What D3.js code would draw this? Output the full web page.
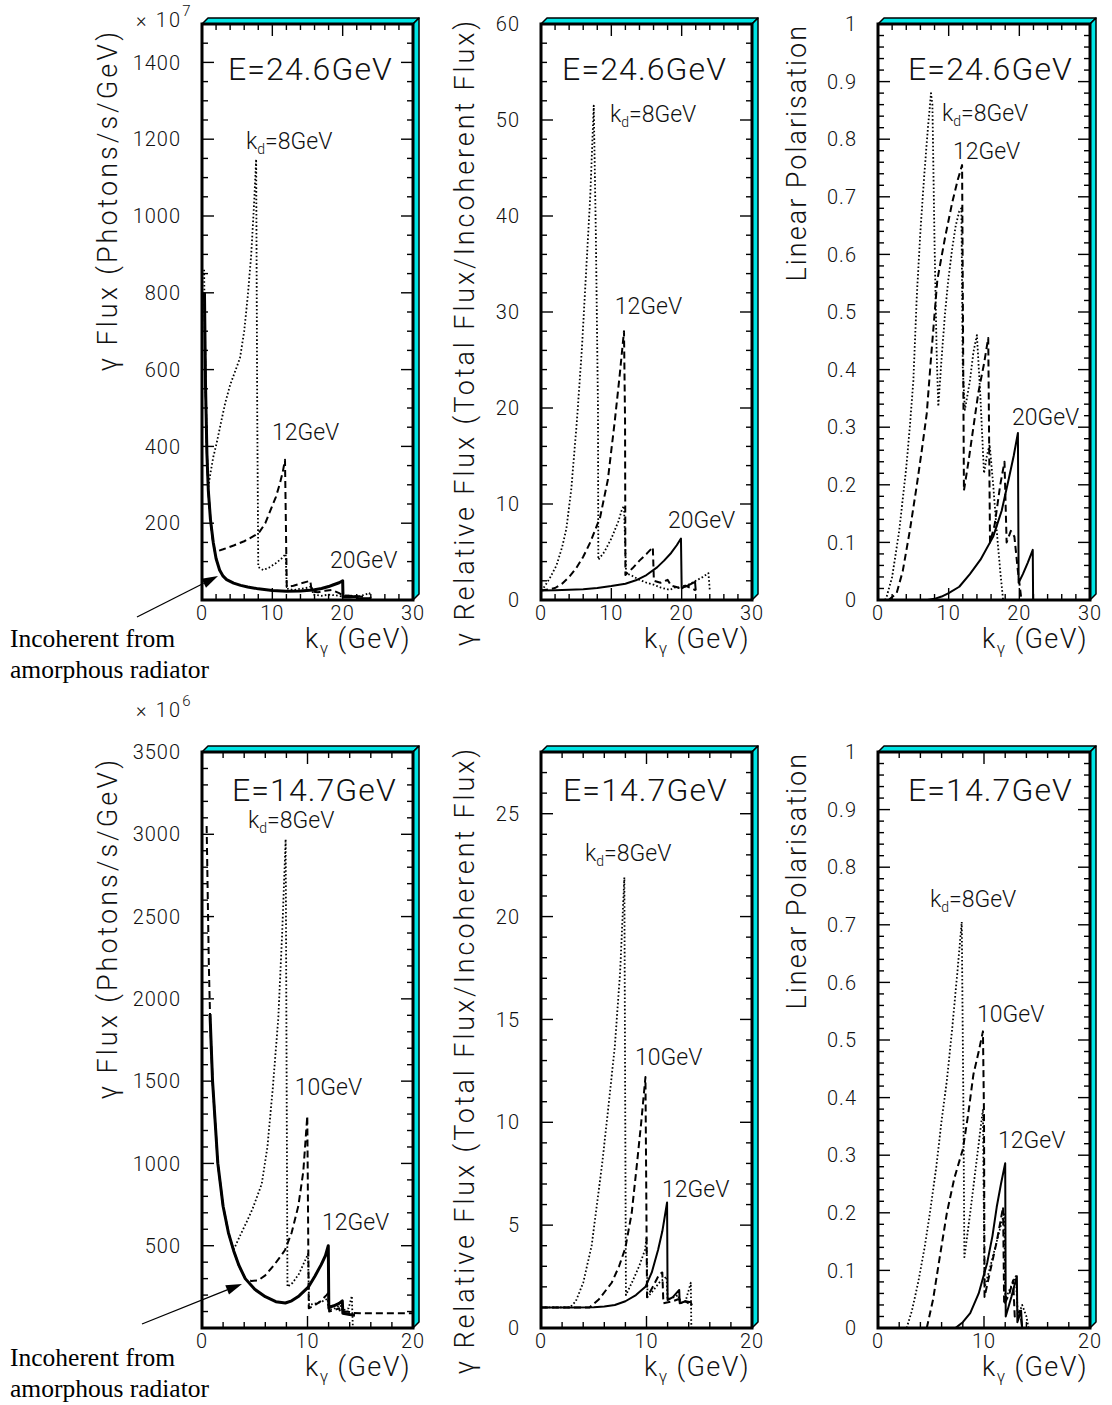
<!DOCTYPE html>
<html>
<head>
<meta charset="utf-8">
<script src="https://cdn.jsdelivr.net/npm/d3@7"></script>
<style>
  body { margin: 0; background: #fff; }
  svg text { font-family: Roboto, "Liberation Sans", Arial, sans-serif; font-weight: 300; fill: #111; }
  svg text.serif { font-family: "Liberation Serif", "Times New Roman", serif; font-weight: 400; fill: #000; }
</style>
</head>
<body>
<svg id="chart" width="1112" height="1405"></svg>
<script>
// ---- tick labels ----
const topXLabels = [0, 10, 20, 30];
const botXLabels = [0, 10, 20];
const fluxTopYLabels = [200, 400, 600, 800, 1000, 1200, 1400];
const relTopYLabels = [0, 10, 20, 30, 40, 50, 60];
const polYLabels = [0, 0.1, 0.2, 0.3, 0.4, 0.5, 0.6, 0.7, 0.8, 0.9, 1];
const fluxBotYLabels = [500, 1000, 1500, 2000, 2500, 3000, 3500];
const relBotYLabels = [0, 5, 10, 15, 20, 25];

// ---- E = 24.6 GeV : flux (x 10^7 photons/s/GeV) ----
const p1Solid = [[0.35,800],[0.5,560],[0.7,380],[0.9,285],[1.2,210],[1.6,150],[2.0,108],[2.5,78],[3.0,62],[3.5,53],[4.5,44],[5.5,38],[6.5,34],[8,29],[10,25],[12,23],[14,23.5],[15.8,26],[17,30],[18,35],[18.6,39],[19.5,45],[20,50],[20.05,8],[21,8],[22,9],[22.1,4],[23,3],[24,3]];
const p1Dashed = [[0.35,800],[0.5,560],[0.7,380],[0.9,285],[1.2,210],[1.5,160],[1.85,125],[3,132],[4.5,142],[6,153],[7.5,168],[8.2,178],[9,200],[9.7,232],[10.5,268],[11.1,305],[11.5,335],[11.8,365],[12.05,34],[13,37],[14,43],[15.4,50],[15.6,22],[16.5,20],[17.5,24],[18.5,26],[19.5,18],[20,12],[21,11],[22,10],[23,8]];
const p1Dotted = [[0.3,860],[0.5,560],[0.7,390],[0.9,295],[1.2,330],[1.6,372],[2.1,410],[2.7,462],[3.3,513],[4.0,560],[4.7,595],[5.4,630],[6.0,700],[6.5,790],[7.0,900],[7.4,1030],[7.7,1148],[7.85,500],[8.0,86],[8.7,78],[9.5,84],[10.5,96],[11.3,108],[11.9,120],[12.05,30],[13,26],[14,29],[15,32],[15.6,36],[15.8,14],[17,11],[18,14],[19,12],[20,9],[21,12],[22,8],[23,13],[23.8,18],[24,4]];

// ---- E = 24.6 GeV : relative flux ----
const p2Solid = [[0,1],[2,1.02],[4,1.06],[6,1.13],[8,1.25],[10,1.45],[12,1.7],[13.5,2.05],[15,2.6],[16.5,3.4],[17.5,4.1],[18.5,4.9],[19.3,5.7],[19.9,6.4],[20.0,1.25],[21,1.55],[21.9,1.9],[22,1.0]];
const p2Dashed = [[0,1],[1,1.1],[2,1.25],[3,1.7],[4,2.4],[5,3.3],[6,4.5],[7,6.0],[8.4,8.6],[9.5,12.5],[10.5,18.7],[11.2,23.5],[11.8,28],[11.95,18.7],[12.0,2.6],[13,3.3],[14,4.1],[15,4.8],[15.9,5.5],[16.05,2.0],[17,1.8],[18,2.1],[18.5,1.5],[19.5,1.3],[20.5,1.5],[21.5,1.2],[22,1.0]];
const p2Dotted = [[0,1],[0.5,1.4],[1.2,2.2],[2.2,3.6],[3,5.5],[3.6,7.4],[4.3,11.5],[5.1,18.6],[5.8,26],[6.4,34],[7.0,42],[7.5,51.5],[7.8,38],[8.1,20],[8.15,4.2],[9,5],[10,6.4],[11,8.2],[11.5,9.4],[11.8,9.8],[12.1,2.8],[13,2.5],[14,2.1],[15,1.8],[16,1.6],[17,1.3],[18.3,1.05],[19,1.3],[20,1.2],[21,1.6],[22,2.0],[23,2.4],[23.8,2.8],[24,1.0]];

// ---- E = 24.6 GeV : linear polarisation ----
const p3Solid = [[7,0],[8,0.002],[9,0.006],[10,0.012],[11.5,0.023],[13,0.045],[14.5,0.07],[16.3,0.11],[17.5,0.155],[18.5,0.21],[19.2,0.25],[19.8,0.29],[19.9,0.03],[20.5,0.045],[21.2,0.065],[21.9,0.087],[21.95,0]];
const p3Dashed = [[1.5,0],[2,0.005],[2.64,0.012],[3.5,0.05],[4.5,0.12],[5.5,0.2],[6.2,0.26],[6.9,0.324],[7.5,0.42],[8.4,0.556],[9.5,0.63],[10.5,0.69],[11.3,0.73],[11.9,0.755],[12.16,0.19],[12.8,0.24],[13.5,0.3],[14.2,0.36],[15.0,0.41],[15.6,0.455],[15.85,0.10],[16.5,0.13],[17.3,0.2],[17.9,0.24],[18.2,0.1],[18.8,0.12],[19.3,0.11],[19.8,0.05],[20.3,0]];
const p3Dotted = [[1.0,0],[1.23,0.006],[2,0.04],[3,0.12],[4,0.23],[4.5,0.3],[5,0.38],[5.5,0.53],[6,0.64],[6.5,0.73],[7,0.81],[7.5,0.88],[7.7,0.86],[8.0,0.62],[8.3,0.43],[8.53,0.336],[9,0.42],[9.5,0.5],[9.95,0.556],[10.5,0.61],[11,0.65],[11.5,0.675],[11.8,0.68],[12.0,0.4],[12.3,0.33],[13,0.38],[13.5,0.43],[14,0.46],[14.5,0.35],[15,0.22],[15.4,0.25],[15.8,0.27],[16.3,0.2],[16.8,0.12],[17.3,0.05],[17.7,0]];

// ---- E = 14.7 GeV : flux (x 10^6 photons/s/GeV) ----
const p4Solid = [[0.76,1908],[1.0,1500],[1.5,1000],[2.0,740],[2.5,580],[3.0,470],[3.5,380],[4.1,300],[5,235],[6,190],[7,160],[7.9,152],[8.5,165],[9.2,195],[10.1,250],[10.7,315],[11.3,385],[11.7,440],[11.97,500],[12.02,125],[12.5,135],[13.0,150],[13.3,165],[13.35,90],[14,82],[14.5,78]];
const p4Dashed = [[0.44,3050],[0.55,2600],[0.65,2200],[0.76,1908],[1.0,1500],[1.5,1000],[2.0,740],[2.5,580],[3.0,470],[3.5,380],[4.1,300],[4.7,285],[5.34,290],[6,320],[6.8,380],[7.5,440],[7.87,474],[8.5,580],[9.13,741],[9.6,950],[9.98,1288],[10.12,120],[10.6,135],[11.2,160],[11.8,200],[12.0,215],[12.05,100],[12.6,110],[13.0,120],[13.1,95],[13.8,100],[14.2,92],[15,90],[17,90],[20,90]];
const p4Dotted = [[3.0,475],[3.6,560],[4.2,640],[4.8,725],[5.66,875],[6.2,1100],[6.7,1450],[7.23,1880],[7.6,2400],[7.93,2970],[8.1,250],[8.6,275],[9.2,330],[9.7,400],[10.05,450],[10.15,140],[10.8,150],[11.4,162],[11.9,178],[12.0,110],[12.6,120],[13.1,140],[13.3,105],[13.9,120],[14.2,195],[14.3,0]];

// ---- E = 14.7 GeV : relative flux ----
const p5Solid = [[0,1],[3,1],[5,1.01],[6,1.04],[7,1.12],[8,1.3],[9,1.6],[9.9,2.0],[10.5,2.7],[11.1,3.8],[11.5,4.7],[11.95,6.1],[12.0,1.36],[12.5,1.5],[13.1,1.85],[13.15,1.2],[13.7,1.3],[14.2,1.25],[14.3,1.1]];
const p5Dashed = [[0,1],[4.6,1.0],[5.5,1.4],[6.7,2.2],[7.4,3.0],[8.0,3.9],[8.6,5.6],[9.1,8.0],[9.5,10.0],[9.9,12.2],[10.05,1.5],[10.6,2.0],[11.2,2.6],[11.5,2.7],[11.6,1.2],[12.5,1.3],[13.0,1.4],[13.5,1.35],[14.0,1.2]];
const p5Dotted = [[0,1],[2.75,1.0],[3.3,1.3],[4,2.2],[4.8,4.0],[5.8,8.0],[6.4,10.8],[7.0,13.7],[7.5,17.3],[7.9,21.9],[8.05,1.6],[8.7,2.3],[9.3,3.0],[9.86,3.8],[10.0,4.4],[10.1,1.5],[10.6,1.8],[11.2,2.2],[11.9,2.5],[12.0,1.4],[12.6,1.5],[13.0,1.6],[13.2,1.2],[13.7,1.3],[14.2,2.2],[14.25,0]];

// ---- E = 14.7 GeV : linear polarisation ----
const p6Solid = [[7.3,0],[8,0.01],[8.7,0.026],[9.5,0.06],[10.3,0.113],[10.8,0.16],[11.2,0.21],[11.6,0.25],[12.0,0.286],[12.05,0.02],[12.6,0.055],[13.1,0.09],[13.15,0.01],[13.5,0.03],[13.6,0]];
const p6Dashed = [[4.6,0],[5.2,0.05],[5.8,0.12],[6.5,0.2],[7.2,0.26],[8,0.31],[8.5,0.37],[9,0.44],[9.5,0.48],[9.9,0.515],[10.0,0.37],[10.05,0.054],[10.6,0.1],[11.2,0.15],[11.8,0.21],[11.9,0.04],[12.4,0.06],[12.75,0.083],[12.9,0.02],[13.4,0.03],[13.6,0]];
const p6Dotted = [[2.7,0],[3.2,0.03],[3.8,0.08],[4.4,0.14],[4.9,0.2],[5.5,0.28],[6.0,0.36],[6.5,0.43],[7.0,0.52],[7.5,0.62],[7.9,0.705],[8.05,0.4],[8.15,0.123],[8.7,0.2],[9.3,0.29],[9.9,0.38],[10.05,0.07],[10.5,0.1],[11.2,0.15],[11.9,0.2],[12.0,0.05],[12.5,0.07],[13.0,0.09],[13.2,0.02],[13.6,0.04],[14,0.02],[14.2,0]];

// ---- in-plot annotations: [text, k, value] ----
const p1Notes = [["E=24.6GeV",3.7,1354],["kd",6.26,1174],["12GeV",9.95,417],["20GeV",18.2,83]];
const p2Notes = [["E=24.6GeV",3.0,54.2],["kd",9.8,49.8],["12GeV",10.5,29.8],["20GeV",18.05,7.5]];
const p3Notes = [["E=24.6GeV",4.25,0.903],["kd",9.05,0.832],["12GeV",10.6,0.766],["20GeV",18.95,0.304]];
const p4Notes = [["E=14.7GeV",2.84,3202],["kd",4.36,3038],["10GeV",8.8,1416],["12GeV",11.37,595]];
const p5Notes = [["E=14.7GeV",2.09,25.6],["kd",4.17,22.7],["10GeV",8.91,12.8],["12GeV",11.47,6.37]];
const p6Notes = [["E=14.7GeV",2.83,0.915],["kd",4.9,0.731],["10GeV",9.34,0.531],["12GeV",11.32,0.3125]];

const fluxTitle = "\u03b3 Flux (Photons/s/GeV)";
const relTitle = "\u03b3 Relative Flux (Total Flux/Incoherent Flux)";
const polTitle = "Linear Polarisation";

// ---- layout ----
const cyan = "#00e5e5";
const depth = 6;
const colX = [[202, 413], [541, 752], [878, 1090]];
const rowY = [[24, 600], [752, 1328]];

const panels = [
  {col:0,row:0,xMax:30,xLabels:topXLabels,yMax:1500,yMajor:200,yMinor:50,yLabels:fluxTopYLabels,
   title:fluxTitle,titleX:117,titleDy:5,titleSp:3,thick:3,notes:p1Notes,series:[[p1Solid,"solid"],[p1Dashed,"dashed"],[p1Dotted,"dotted"]]},
  {col:1,row:0,xMax:30,xLabels:topXLabels,yMax:60,yMajor:10,yMinor:2,yLabels:relTopYLabels,
   title:relTitle,titleX:474,titleDy:-6,titleSp:2.9,thick:2,notes:p2Notes,series:[[p2Solid,"solid"],[p2Dashed,"dashed"],[p2Dotted,"dotted"]]},
  {col:2,row:0,xMax:30,xLabels:topXLabels,yMax:1,yMajor:0.1,yMinor:0.02,yLabels:polYLabels,
   title:polTitle,titleX:806,titleDy:0,titleSp:2,thick:2,notes:p3Notes,series:[[p3Solid,"solid"],[p3Dashed,"dashed"],[p3Dotted,"dotted"]]},
  {col:0,row:1,xMax:20,xLabels:botXLabels,yMax:3500,yMajor:500,yMinor:100,yLabels:fluxBotYLabels,
   title:fluxTitle,titleX:117,titleDy:5,titleSp:3,thick:3,notes:p4Notes,series:[[p4Solid,"solid"],[p4Dashed,"dashed"],[p4Dotted,"dotted"]]},
  {col:1,row:1,xMax:20,xLabels:botXLabels,yMax:28,yMajor:5,yMinor:1,yLabels:relBotYLabels,
   title:relTitle,titleX:474,titleDy:-6,titleSp:2.9,thick:2,notes:p5Notes,series:[[p5Solid,"solid"],[p5Dashed,"dashed"],[p5Dotted,"dotted"]]},
  {col:2,row:1,xMax:20,xLabels:botXLabels,yMax:1,yMajor:0.1,yMinor:0.02,yLabels:polYLabels,
   title:polTitle,titleX:806,titleDy:0,titleSp:2,thick:2,notes:p6Notes,series:[[p6Solid,"solid"],[p6Dashed,"dashed"],[p6Dotted,"dotted"]]}
];

const svg = d3.select("#chart");

function steps(max, step) {
  const n = Math.round(max / step);
  return d3.range(n + 1).map(i => +(i * step).toFixed(6));
}
function isMajor(v, major) {
  const r = v / major;
  return Math.abs(r - Math.round(r)) < 1e-6;
}

function drawPanel(p, idx) {
  const [x0, x1] = colX[p.col];
  const [y0, y1] = rowY[p.row];
  const x = d3.scaleLinear().domain([0, p.xMax]).range([x0, x1]);
  const y = d3.scaleLinear().domain([0, p.yMax]).range([y1, y0]);
  const g = svg.append("g");

  const clipId = "clip" + idx;
  g.append("clipPath").attr("id", clipId)
    .append("rect").attr("x", x0).attr("y", y0).attr("width", x1 - x0).attr("height", y1 - y0);

  // 3D cyan bands on top and right
  g.append("path")
    .attr("d", `M${x0},${y0}L${x0 + depth},${y0 - depth}L${x1 + depth},${y0 - depth}L${x1},${y0}Z`)
    .attr("fill", cyan).attr("stroke", "#000").attr("stroke-width", 1.5).attr("stroke-linejoin", "round");
  g.append("path")
    .attr("d", `M${x1},${y0}L${x1 + depth},${y0 - depth}L${x1 + depth},${y1 - depth}L${x1},${y1}Z`)
    .attr("fill", cyan).attr("stroke", "#000").attr("stroke-width", 1.5).attr("stroke-linejoin", "round");

  // curves
  const line = d3.line().x(d => x(d[0])).y(d => y(d[1]));
  const curves = g.append("g").attr("clip-path", `url(#${clipId})`);
  p.series.forEach(([data, style]) => {
    const path = curves.append("path").datum(data)
      .attr("d", line).attr("fill", "none").attr("stroke", "#000")
      .attr("stroke-linejoin", "round");
    if (style === "solid") path.attr("stroke-width", p.thick);
    if (style === "dashed") path.attr("stroke-width", 2).attr("stroke-dasharray", "7,4");
    if (style === "dotted") path.attr("stroke-width", 1.8).attr("stroke-dasharray", "1.6,2.2");
  });

  // inward ticks on all four sides
  const ticks = g.append("g").attr("stroke", "#000").attr("stroke-width", 1.4);
  steps(p.yMax, p.yMinor).forEach(v => {
    const len = isMajor(v, p.yMajor) ? 12 : 6;
    const yy = y(v);
    ticks.append("line").attr("x1", x0).attr("x2", x0 + len).attr("y1", yy).attr("y2", yy);
    ticks.append("line").attr("x1", x1).attr("x2", x1 - len).attr("y1", yy).attr("y2", yy);
  });
  steps(p.xMax, 2).forEach(v => {
    const len = isMajor(v, 10) ? 12 : 6;
    const xx = x(v);
    ticks.append("line").attr("x1", xx).attr("x2", xx).attr("y1", y1).attr("y2", y1 - len);
    ticks.append("line").attr("x1", xx).attr("x2", xx).attr("y1", y0).attr("y2", y0 + len);
  });

  // frame
  g.append("rect").attr("x", x0).attr("y", y0).attr("width", x1 - x0).attr("height", y1 - y0)
    .attr("fill", "none").attr("stroke", "#000").attr("stroke-width", 3);

  // tick labels
  g.selectAll(".ylab").data(p.yLabels).join("text")
    .attr("x", x0 - 21).attr("y", d => y(d)).attr("dy", "0.36em")
    .attr("text-anchor", "end").style("font-size", "20px").style("letter-spacing", "1px")
    .text(d => String(d));
  g.selectAll(".xlab").data(p.xLabels).join("text")
    .attr("x", d => x(d)).attr("y", y1 + 20)
    .attr("text-anchor", "middle").style("font-size", "20px").style("letter-spacing", "1px")
    .text(d => String(d));

  // axis titles
  g.append("text")
    .attr("transform", `translate(${p.titleX},${y0 + p.titleDy}) rotate(-90)`)
    .attr("text-anchor", "end").style("font-size", "27px").style("letter-spacing", p.titleSp + "px")
    .text(p.title);
  const xt = g.append("text").attr("x", x1 - 2).attr("y", y1 + 48)
    .attr("text-anchor", "end").style("font-size", "27px").style("letter-spacing", "1.4px");
  xt.append("tspan").text("k");
  xt.append("tspan").attr("dy", 6).style("font-size", "17px").text("\u03b3");
  xt.append("tspan").attr("dy", -6).text(" (GeV)");

  // annotations
  p.notes.forEach(([txt, k, v]) => {
    const t = g.append("text").attr("x", x(k)).attr("y", y(v));
    if (txt === "kd") {
      t.style("font-size", "23px");
      t.append("tspan").text("k");
      t.append("tspan").attr("dy", 5).style("font-size", "14px").text("d");
      t.append("tspan").attr("dy", -5).text("=8GeV");
    } else if (txt.startsWith("E=")) {
      t.style("font-size", "32px").style("letter-spacing", "1.1px").text(txt);
    } else {
      t.style("font-size", "23px").text(txt);
    }
  });
}

panels.forEach(drawPanel);

// exponent markers
function exponent(xp, yp, power) {
  const t = svg.append("text").attr("x", xp).attr("y", yp)
    .style("font-size", "20px").style("letter-spacing", "2.2px");
  t.append("tspan").text("\u00d7 10");
  t.append("tspan").attr("dy", -11).style("font-size", "15px").text(power);
}
exponent(136, 27, "7");
exponent(136, 717, "6");

// "Incoherent from amorphous radiator" notes with arrows
function incoherentNote(tx, ty, from, to) {
  const t = svg.append("text").attr("class", "serif").style("font-size", "25.5px");
  t.append("tspan").attr("x", tx).attr("y", ty).text("Incoherent from");
  t.append("tspan").attr("x", tx).attr("y", ty + 31).text("amorphous radiator");
  const ang = Math.atan2(to[1] - from[1], to[0] - from[0]);
  const hl = 16, hw = 5;
  const bx = to[0] - hl * Math.cos(ang), by = to[1] - hl * Math.sin(ang);
  svg.append("line").attr("x1", from[0]).attr("y1", from[1]).attr("x2", bx).attr("y2", by)
    .attr("stroke", "#000").attr("stroke-width", 1.3);
  svg.append("path")
    .attr("d", `M${to[0]},${to[1]}L${bx + hw * Math.sin(ang)},${by - hw * Math.cos(ang)}L${bx - hw * Math.sin(ang)},${by + hw * Math.cos(ang)}Z`)
    .attr("fill", "#000");
}
incoherentNote(10, 647, [137, 617], [218, 576]);
incoherentNote(10, 1366, [142, 1324], [242, 1284]);
</script>
</body>
</html>
